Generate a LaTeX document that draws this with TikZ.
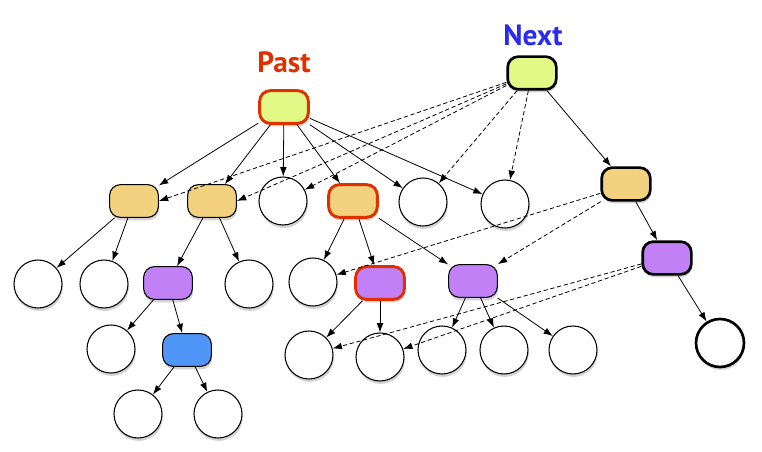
\documentclass[tikz,border=0pt]{standalone}
\usepackage{fontspec}
\newfontfamily\labelfont{PT Sans}
\usetikzlibrary{arrows.meta,shadows}
\definecolor{lime}{HTML}{E2F986}
\definecolor{tan}{HTML}{F2D27E}
\definecolor{lilac}{HTML}{C280F7}
\definecolor{skyb}{HTML}{5096F8}
\definecolor{redb}{HTML}{E03000}
\definecolor{blueb}{HTML}{2B2BF0}
\tikzset{
  shd/.style={drop shadow={opacity=0.35,shadow xshift=0.6pt,shadow yshift=-2.2pt}},
  box/.style={draw=black,line width=0.8pt,rounded corners=8pt,minimum width=36.5pt,minimum height=24.5pt,inner sep=0pt,shd},
  circ/.style={draw=black,line width=0.8pt,circle,fill=white,minimum size=36pt,inner sep=0pt,shd},
  pastb/.style={draw=redb,line width=2.2pt},
  nextb/.style={line width=2pt},
  edge/.style={-{Latex[length=7pt,width=5pt]},line width=0.6pt},
  dedge/.style={edge,dashed,dash pattern=on 3.2pt off 2pt},
  lbl/.style={font=\labelfont\bfseries\fontsize{22}{24}\selectfont,inner sep=0pt}
}
\begin{document}
\begin{tikzpicture}[x=0.75pt,y=-0.75pt]
\useasboundingbox (0,0) rectangle (762,452);
% labels
\node[lbl,text=redb] (pastlbl) at (284,62) {Past};
\node[lbl,text=blueb] (nextlbl) at (533,35) {Next};
% top
\node[box,fill=lime,pastb] (past) at (284,107) {};
\node[box,fill=lime,nextb] (next) at (532,73) {};
% level 1
\node[box,fill=tan] (a1) at (134,201) {};
\node[box,fill=tan] (a2) at (212,201) {};
\node[circ] (c1) at (283,201) {};
\node[box,fill=tan,pastb] (a3) at (353,201) {};
\node[circ] (c2) at (423,202) {};
\node[circ] (c3) at (505,204) {};
\node[box,fill=tan,nextb] (n1) at (626,184) {};
% level 2
\node[circ] (c4) at (38,284) {};
\node[circ] (c5) at (104,284) {};
\node[box,fill=lilac] (p1) at (168,283) {};
\node[circ] (c6) at (249,284) {};
\node[circ] (c7) at (313,282) {};
\node[box,fill=lilac,pastb] (p2) at (380,283) {};
\node[box,fill=lilac] (p3) at (473,281) {};
\node[box,fill=lilac,nextb] (n2) at (667,258) {};
% level 3
\node[circ] (c8) at (111,349) {};
\node[box,fill=skyb] (b1) at (187,350) {};
\node[circ] (c9) at (309,355) {};
\node[circ] (c10) at (380,357) {};
\node[circ] (c11) at (442,350) {};
\node[circ] (c12) at (504,350) {};
\node[circ] (c13) at (573,350) {};
\node[circ,line width=2pt] (n3) at (720,343) {};
% level 4
\node[circ] (c14) at (138,414) {};
\node[circ] (c15) at (218,414) {};
% solid edges
\foreach \t in {a1,a2,c1,a3,c2,c3} \draw[edge] (past) -- (\t);
\draw[edge] (a1) -- (c4);
\draw[edge] (a1) -- (c5);
\draw[edge] (a2) -- (p1);
\draw[edge] (a2) -- (c6);
\draw[edge] (a3) -- (c7);
\draw[edge] (a3) -- (p2);
\draw[edge] (a3) -- (p3);
\draw[edge] (p1) -- (c8);
\draw[edge] (p1) -- (b1);
\draw[edge] (b1) -- (c14);
\draw[edge] (b1) -- (c15);
\draw[edge] (p2) -- (c9);
\draw[edge] (p2) -- (c10);
\draw[edge] (p3) -- (c11);
\draw[edge] (p3) -- (c12);
\draw[edge] (p3) -- (c13);
\draw[edge] (next) -- (n1);
\draw[edge] (n1) -- (n2);
\draw[edge] (n2) -- (n3);
% dashed edges
\draw[dedge] (next.200) -- (a1.east);
\draw[dedge] (next.203) -- (a2.east);
\draw[dedge] (next.206) -- (c1);
\draw[dedge] (next) -- (c2);
\draw[dedge] (next) -- (c3);
\draw[dedge] (n1.200) -- (c7);
\draw[dedge] (n1.215) -- (p3.north east);
\draw[dedge] (n2.193) -- (c9);
\draw[dedge] (n2.198) -- (c10);
\end{tikzpicture}
\end{document}
